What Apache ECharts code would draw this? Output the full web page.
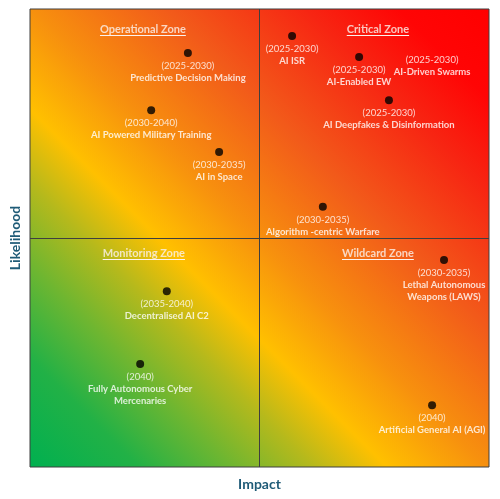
<!DOCTYPE html>
<html>
<head>
<meta charset="utf-8">
<script src="https://cdn.jsdelivr.net/npm/echarts@6/dist/echarts.min.js"></script>
<style>html,body{margin:0;padding:0;background:#fff;}#c{width:500px;height:499px;}</style>
</head>
<body>
<div id="c"></div>
<script>
// Risk items: name, timeframe, impact (x), likelihood (y)
const names = [
  'Predictive Decision Making',
  'AI Powered Military Training',
  'AI in Space',
  'AI ISR',
  'AI-Enabled EW',
  'AI-Driven Swarms',
  'AI Deepfakes & Disinformation',
  'Algorithm -centric Warfare',
  'Decentralised AI C2',
  'Fully Autonomous Cyber\nMercenaries',
  'Lethal Autonomous\nWeapons (LAWS)',
  'Artificial General AI (AGI)'
];
const timeframes = [
  '(2025-2030)', '(2030-2040)', '(2030-2035)', '(2025-2030)', '(2025-2030)', '(2025-2030)',
  '(2025-2030)', '(2030-2035)', '(2035-2040)', '(2040)', '(2030-2035)', '(2040)'
];
const impact =     [3.44, 2.64, 4.12, 5.71, 7.17, 8.76, 7.82, 6.38, 2.98, 2.40, 9.02, 8.76];
const likelihood = [9.04, 7.79, 6.88, 9.41, 8.95, 9.17, 8.01, 5.68, 3.84, 2.25, 4.52, 1.35];
const hiddenDot =  [false, false, false, false, false, true, false, false, false, false, false, false];

const zoneNames = ['Operational Zone', 'Critical Zone', 'Monitoring Zone', 'Wildcard Zone'];
const zoneX = [2.46, 7.58, 2.48, 7.58];
const zoneY = [9.56, 9.56, 4.67, 4.67];

const axisMin = 0, axisMax = 10, midValue = 5;

const FONT = 'Lato';

const chart = echarts.init(document.getElementById('c'), null, {renderer: 'canvas'});

const pointData = names.map((n, i) => ({
  value: [impact[i], likelihood[i]],
  name: n,
  tf: timeframes[i],
  itemStyle: hiddenDot[i] ? {color: 'rgba(0,0,0,0)'} : undefined
}));

const zoneData = zoneNames.map((n, i) => ({value: [zoneX[i], zoneY[i]], name: n}));

const option = {
  animation: false,
  grid: {
    left: 30, top: 9, right: 11, bottom: 32,
    show: true,
    borderColor: '#3f3f3f',
    borderWidth: 1,
    backgroundColor: new echarts.graphic.LinearGradient(0, 1, 1, 0, [
      {offset: 0, color: '#00b050'},
      {offset: 0.12, color: '#22b146'},
      {offset: 0.22, color: '#6db631'},
      {offset: 0.31, color: '#b5b91c'},
      {offset: 0.39, color: '#ffc000'},
      {offset: 0.5, color: '#f7900e'},
      {offset: 0.65, color: '#f25a1a'},
      {offset: 0.8, color: '#f72512'},
      {offset: 0.9, color: '#ff0505'},
      {offset: 1, color: '#ff0000'}
    ])
  },
  xAxis: {
    type: 'value', min: axisMin, max: axisMax,
    name: 'Impact', nameLocation: 'middle', nameGap: 10,
    nameTextStyle: {fontFamily: FONT, fontWeight: 'bold', fontSize: 14, color: '#1f5b77'},
    axisLine: {show: false}, axisTick: {show: false}, axisLabel: {show: false}, splitLine: {show: false}
  },
  yAxis: {
    type: 'value', min: axisMin, max: axisMax,
    name: 'Likelihood', nameLocation: 'middle', nameGap: 8,
    nameTextStyle: {fontFamily: FONT, fontWeight: 'bold', fontSize: 14, color: '#1f5b77'},
    axisLine: {show: false}, axisTick: {show: false}, axisLabel: {show: false}, splitLine: {show: false}
  },
  series: [
    {
      type: 'scatter',
      symbolSize: 8,
      itemStyle: {color: '#000'},
      data: pointData,
      label: {
        show: true,
        position: 'bottom',
        distance: 3,
        formatter: p => '{a|' + p.data.tf + '}\n' + p.name.split('\n').map(s => '{b|' + s + '}').join('\n'),
        rich: {
          a: {fontFamily: FONT, fontSize: 9.5, color: '#ffffff', lineHeight: 12, align: 'center'},
          b: {fontFamily: FONT, fontSize: 9.5, fontWeight: 'bold', color: '#ffffff', lineHeight: 12, align: 'center'}
        }
      },
      markLine: {
        silent: true,
        symbol: 'none',
        label: {show: false},
        lineStyle: {color: '#3f3f3f', width: 1, type: 'solid'},
        data: [{xAxis: midValue}, {yAxis: midValue}]
      },
      z: 3
    },
    {
      type: 'scatter',
      symbolSize: 0,
      silent: true,
      data: zoneData,
      label: {
        show: true,
        position: 'inside',
        formatter: '{b}',
        fontFamily: FONT, fontSize: 11, fontWeight: 'bold', color: '#fbf3ee'
      },
      z: 2
    }
  ]
};
chart.setOption(option);

// underline zone titles
const ctx = document.createElement('canvas').getContext('2d');
ctx.font = 'bold 11px ' + FONT;
const lines = zoneData.map(d => {
  const p = chart.convertToPixel({gridIndex: 0}, d.value);
  const w = ctx.measureText(d.name).width;
  return {
    type: 'line',
    silent: true,
    shape: {x1: p[0] - w / 2, y1: Math.round(p[1]) + 6.5, x2: p[0] + w / 2, y2: Math.round(p[1]) + 6.5},
    style: {stroke: '#fbf3ee', lineWidth: 1},
    z: 10
  };
});
chart.setOption({graphic: lines});
</script>
</body>
</html>
